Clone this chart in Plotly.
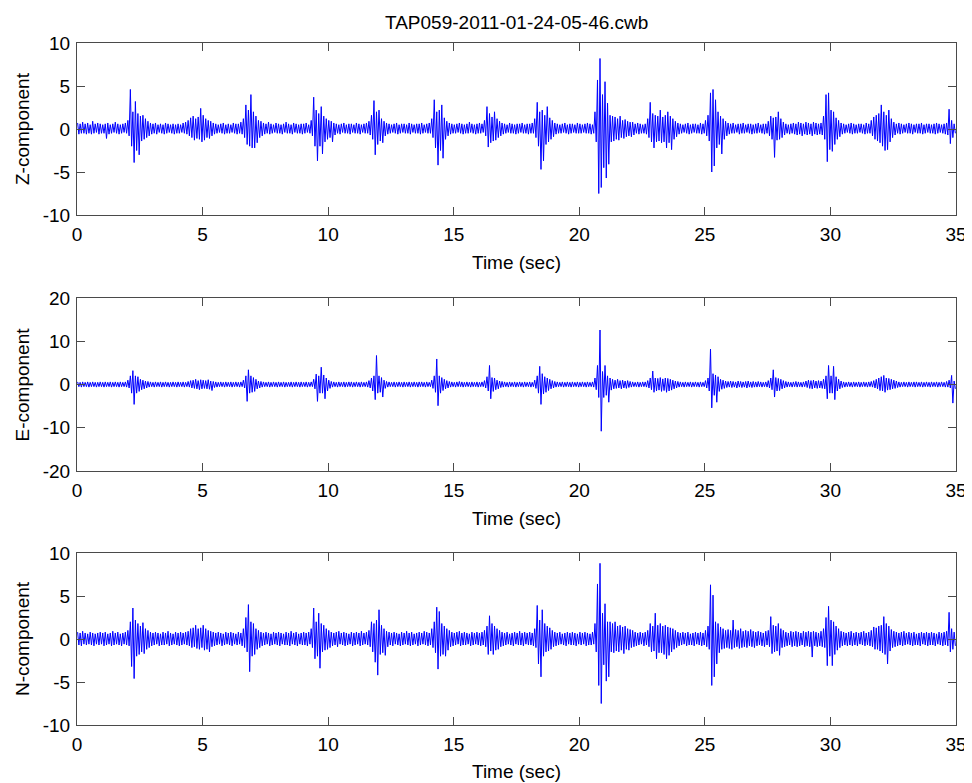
import plotly.graph_objects as go

# ---- data: per-0.1 s bin maximum / minimum ----
bin_width = 0.1
x_ticks = [0, 5, 10, 15, 20, 25, 30, 35]
title_text = "TAP059-2011-01-24-05-46.cwb"
component_labels = ["Z-component", "E-component", "N-component"]
y_ticks_z = [-10, -5, 0, 5, 10]
y_ticks_e = [-20, -10, 0, 10, 20]
y_ticks_n = [-10, -5, 0, 5, 10]

z_hi = [
    0.7,0.6,0.8,0.6,0.7,0.5,0.9,0.6,0.7,0.6,
    0.5,0.6,0.7,0.5,0.6,0.8,0.6,0.5,0.6,0.7,
    1.0,4.6,2.0,3.2,1.8,1.5,1.6,1.2,0.9,0.7,
    0.6,0.7,0.5,0.6,0.5,0.7,0.6,0.5,0.6,0.5,
    0.6,0.5,0.7,0.8,1.0,1.3,1.5,1.2,1.4,2.4,
    1.6,1.2,1.0,0.9,0.7,0.6,0.5,0.6,0.7,0.5,
    0.6,0.5,0.7,0.6,0.6,0.8,1.2,2.8,2.2,4.0,
    2.0,1.5,1.0,0.9,0.7,0.6,0.8,0.6,0.5,0.7,
    0.6,0.5,0.6,0.8,0.6,0.5,0.7,0.6,0.5,0.6,
    0.6,0.7,0.5,1.0,3.7,2.2,1.8,2.6,1.5,1.2,
    1.0,0.9,0.7,0.6,0.5,0.6,0.7,0.5,0.6,0.6,
    0.5,0.7,0.6,0.5,0.6,0.7,0.9,1.6,3.3,2.0,
    2.2,1.2,0.9,0.7,0.6,0.5,0.6,0.7,0.5,0.6,
    0.6,0.5,0.7,0.6,0.5,0.6,0.6,0.7,0.5,0.6,
    0.7,1.2,3.4,2.0,2.2,2.8,1.3,0.9,0.7,0.6,
    0.5,0.6,0.7,0.6,0.5,0.6,0.8,0.6,0.5,0.6,
    0.7,0.6,1.0,2.6,1.8,1.4,2.0,1.2,0.9,0.7,
    0.6,0.5,0.7,0.6,0.5,0.6,0.6,0.7,0.5,0.6,
    0.6,0.7,1.2,3.1,2.0,2.2,1.6,2.6,1.3,1.0,
    0.7,0.6,0.5,0.6,0.7,0.5,0.6,0.6,0.5,0.7,
    0.6,0.5,0.6,0.7,0.6,0.5,2.0,5.7,8.2,4.0,
    5.5,3.0,1.6,1.5,1.4,1.2,1.5,1.0,1.1,0.9,
    0.8,0.8,0.6,0.7,0.6,0.5,0.6,1.2,3.1,1.8,
    1.6,1.5,2.2,1.4,1.6,2.0,1.5,1.2,0.9,0.7,
    0.6,0.5,0.6,0.7,0.5,0.6,0.6,0.5,0.7,0.6,
    1.0,1.6,4.2,4.6,3.4,2.0,1.5,1.2,0.9,0.7,
    0.6,0.7,0.5,0.6,0.6,0.7,0.5,0.6,0.6,0.5,
    0.6,0.7,0.5,0.6,0.6,0.9,1.5,1.3,1.4,2.0,
    1.2,0.8,0.6,0.5,0.6,0.7,0.6,0.8,0.7,0.6,
    0.8,0.7,0.6,0.8,0.7,0.6,0.7,1.5,4.0,4.2,
    2.2,2.0,1.3,1.0,0.7,0.6,0.5,0.6,0.7,0.6,
    0.5,0.6,0.6,0.5,0.7,0.6,1.0,1.4,1.6,1.8,
    2.8,2.0,1.6,2.2,1.2,0.8,0.6,0.7,0.6,0.5,
    0.6,0.7,0.6,0.5,0.6,0.6,0.7,0.5,0.6,0.6,
    0.5,0.6,0.7,0.6,0.5,0.6,0.7,2.3,1.0,0.6]
z_lo = [
    -0.6,-0.5,-0.5,-0.6,-0.5,-0.6,-0.5,-0.4,-0.6,-0.5,
    -0.5,-1.1,-0.6,-0.5,-0.4,-0.5,-0.6,-0.5,-0.4,-0.5,
    -0.8,-2.0,-3.9,-2.5,-3.0,-1.4,-1.2,-1.0,-0.8,-0.6,
    -0.5,-0.6,-0.4,-0.5,-0.6,-0.5,-0.4,-0.5,-0.6,-0.5,
    -0.5,-0.4,-0.5,-0.6,-0.8,-1.0,-1.3,-1.1,-1.2,-1.5,
    -1.3,-1.0,-1.1,-0.8,-0.6,-0.5,-0.4,-0.5,-0.6,-0.5,
    -0.5,-0.4,-0.5,-0.6,-0.5,-0.6,-1.0,-1.8,-2.0,-2.2,
    -2.2,-1.6,-1.0,-0.8,-0.6,-0.5,-0.6,-0.5,-0.4,-0.5,
    -0.5,-0.6,-0.4,-0.5,-0.5,-0.6,-0.4,-0.5,-0.5,-0.6,
    -0.5,-0.4,-0.5,-0.8,-2.0,-3.7,-2.0,-2.9,-1.5,-1.2,
    -1.0,-1.5,-0.7,-0.5,-0.6,-0.4,-0.5,-0.5,-0.6,-0.4,
    -0.5,-0.5,-0.6,-0.4,-0.5,-0.5,-0.7,-1.2,-3.0,-1.8,
    -1.4,-1.6,-0.8,-0.6,-0.5,-0.4,-0.5,-0.6,-0.5,-0.4,
    -0.5,-0.5,-0.6,-0.4,-0.5,-0.5,-0.6,-0.5,-0.4,-0.5,
    -0.5,-1.0,-2.2,-4.2,-2.5,-3.4,-1.2,-0.8,-0.6,-0.5,
    -0.5,-0.4,-0.5,-0.6,-0.5,-0.5,-0.4,-0.5,-0.6,-0.5,
    -0.5,-0.4,-0.8,-2.1,-1.6,-1.4,-1.3,-1.0,-0.8,-0.6,
    -0.5,-0.4,-0.5,-0.5,-0.6,-0.5,-0.4,-0.5,-0.5,-0.6,
    -0.5,-0.5,-1.0,-2.0,-4.7,-3.7,-1.8,-1.5,-1.2,-0.9,
    -0.6,-0.5,-0.5,-0.4,-0.5,-0.6,-0.5,-0.4,-0.5,-0.5,
    -0.5,-0.4,-0.5,-0.5,-0.6,-0.5,-1.5,-7.5,-6.8,-4.5,
    -5.7,-4.1,-1.5,-1.4,-1.2,-1.3,-1.0,-1.1,-0.9,-0.8,
    -0.9,-0.7,-0.5,-0.6,-0.5,-0.5,-0.6,-1.0,-1.5,-2.2,
    -1.5,-1.4,-1.6,-1.5,-2.2,-1.6,-2.4,-1.2,-0.9,-0.6,
    -0.5,-0.4,-0.5,-0.6,-0.5,-0.4,-0.5,-0.5,-0.6,-0.5,
    -0.8,-1.4,-5.0,-4.3,-2.2,-1.8,-2.9,-1.2,-0.8,-0.6,
    -0.5,-0.5,-0.4,-0.6,-0.5,-0.5,-0.4,-0.5,-0.6,-0.5,
    -0.5,-0.4,-0.5,-0.6,-0.5,-0.8,-1.2,-3.3,-1.3,-1.2,
    -1.0,-0.7,-0.5,-0.6,-0.5,-0.6,-0.7,-0.6,-0.8,-0.6,
    -0.7,-0.6,-0.8,-0.6,-0.7,-0.6,-0.7,-1.2,-3.8,-2.4,
    -2.6,-1.8,-1.2,-0.9,-0.6,-0.5,-0.4,-0.5,-0.6,-0.5,
    -0.5,-0.4,-0.5,-0.6,-0.5,-0.5,-0.8,-1.2,-1.4,-1.6,
    -2.0,-2.5,-2.4,-1.5,-1.0,-0.7,-0.5,-0.6,-0.5,-0.4,
    -0.5,-0.5,-0.6,-0.4,-0.5,-0.5,-0.6,-0.5,-0.4,-0.5,
    -0.5,-0.6,-0.5,-0.4,-0.5,-0.6,-0.7,-1.7,-1.0,-0.5]

e_hi = [
    0.6,0.5,0.6,0.5,0.6,0.5,0.6,0.5,0.5,0.6,
    0.5,0.6,0.5,0.6,0.5,0.6,0.5,0.6,0.5,0.6,
    1.0,2.0,3.2,2.0,1.8,1.2,1.0,0.8,0.7,0.6,
    0.5,0.6,0.5,0.6,0.5,0.6,0.5,0.5,0.6,0.5,
    0.6,0.5,0.6,0.5,0.7,0.9,1.0,1.2,0.9,1.1,
    1.0,0.9,1.1,0.8,0.7,0.6,0.5,0.6,0.5,0.6,
    0.5,0.6,0.5,0.6,0.5,0.6,1.0,2.0,3.4,2.0,
    1.6,1.2,0.8,0.7,0.6,0.5,0.6,0.5,0.6,0.5,
    0.6,0.5,0.6,0.5,0.5,0.6,0.5,0.6,0.5,0.6,
    0.5,0.6,0.5,0.6,1.2,2.4,2.0,4.0,2.2,1.5,
    1.0,0.7,0.6,0.5,0.6,0.5,0.6,0.5,0.6,0.6,
    0.5,0.6,0.5,0.6,0.5,0.6,0.9,1.5,2.0,6.7,
    2.0,1.6,1.0,0.7,0.6,0.5,0.6,0.5,0.6,0.5,
    0.6,0.5,0.6,0.5,0.6,0.5,0.6,0.6,0.5,0.6,
    0.5,1.0,2.0,5.9,2.0,1.6,1.2,0.9,0.7,0.6,
    0.5,0.6,0.7,0.6,0.5,0.6,0.5,0.6,0.5,0.6,
    0.5,0.6,0.9,1.8,4.4,1.6,1.5,1.0,0.8,0.7,
    0.6,0.5,0.6,0.5,0.6,0.5,0.6,0.5,0.6,0.5,
    0.6,0.5,1.0,2.0,4.2,2.5,1.8,1.5,1.2,0.9,
    0.7,0.6,0.5,0.6,0.5,0.6,0.5,0.6,0.5,0.6,
    0.5,0.6,0.5,0.6,0.5,0.6,1.5,4.4,12.6,3.0,
    4.4,2.0,1.5,1.2,1.0,1.2,0.9,1.0,0.8,0.9,
    0.7,0.6,0.5,0.6,0.5,0.6,0.6,0.9,1.5,3.1,
    1.5,1.4,1.6,1.3,1.5,1.4,1.2,1.0,0.8,0.7,
    0.6,0.5,0.6,0.5,0.6,0.5,0.6,0.5,0.6,0.5,
    0.9,1.5,8.2,2.5,2.2,1.8,1.2,1.0,0.8,0.7,
    0.8,0.7,0.6,0.8,0.7,0.6,0.7,0.8,0.6,0.7,
    0.6,0.7,0.6,0.5,0.6,0.9,1.5,3.4,1.6,1.4,
    1.2,0.9,0.7,0.6,0.5,0.6,0.7,0.6,0.5,0.6,
    0.8,1.0,0.9,1.0,0.8,0.9,0.8,1.2,2.0,4.4,
    2.0,4.2,1.8,1.2,0.8,0.6,0.5,0.6,0.5,0.6,
    0.5,0.6,0.5,0.6,0.5,0.6,0.7,0.9,1.2,1.5,
    1.8,2.1,1.5,1.4,1.2,1.0,0.8,0.6,0.5,0.6,
    0.5,0.6,0.5,0.6,0.6,0.5,0.6,0.5,0.6,0.5,
    0.6,0.5,0.6,0.5,0.6,0.5,0.7,1.0,2.1,0.8]
e_lo = [
    -0.5,-0.6,-0.5,-0.5,-0.6,-0.5,-0.5,-0.6,-0.5,-0.5,
    -0.6,-0.5,-0.5,-0.6,-0.5,-0.5,-0.6,-0.5,-0.5,-0.6,
    -0.8,-2.0,-4.6,-2.0,-1.6,-1.2,-1.0,-0.8,-0.6,-0.5,
    -0.6,-0.5,-0.5,-0.6,-0.5,-0.5,-0.6,-0.5,-0.5,-0.6,
    -0.5,-0.5,-0.6,-0.5,-0.6,-0.8,-0.9,-1.0,-1.2,-1.0,
    -0.9,-1.0,-1.1,-1.4,-0.7,-0.6,-0.5,-0.5,-0.6,-0.5,
    -0.5,-0.6,-0.5,-0.5,-0.6,-0.5,-0.8,-3.9,-2.0,-1.8,
    -1.6,-1.0,-0.8,-0.6,-0.5,-0.5,-0.6,-0.5,-0.5,-0.6,
    -0.5,-0.5,-0.6,-0.5,-0.5,-0.6,-0.5,-0.5,-0.6,-0.5,
    -0.5,-0.6,-0.5,-0.5,-1.0,-3.9,-2.0,-2.0,-3.3,-1.5,
    -0.9,-0.6,-0.5,-0.6,-0.5,-0.5,-0.6,-0.5,-0.5,-0.6,
    -0.5,-0.5,-0.6,-0.5,-0.5,-0.6,-0.8,-1.5,-3.5,-2.0,
    -1.8,-2.9,-0.9,-0.6,-0.5,-0.5,-0.6,-0.5,-0.5,-0.6,
    -0.5,-0.5,-0.6,-0.5,-0.5,-0.6,-0.5,-0.5,-0.6,-0.5,
    -0.5,-0.9,-1.8,-4.9,-2.0,-1.4,-1.0,-0.8,-0.6,-0.5,
    -0.6,-0.5,-0.5,-0.6,-0.5,-0.5,-0.6,-0.5,-0.5,-0.6,
    -0.5,-0.5,-0.8,-1.5,-3.3,-1.6,-1.2,-1.0,-0.7,-0.6,
    -0.5,-0.6,-0.5,-0.5,-0.6,-0.5,-0.5,-0.6,-0.5,-0.5,
    -0.6,-0.5,-0.9,-2.0,-4.6,-2.2,-1.8,-1.4,-1.0,-0.8,
    -0.6,-0.5,-0.5,-0.6,-0.5,-0.5,-0.6,-0.5,-0.5,-0.6,
    -0.5,-0.5,-0.6,-0.5,-0.5,-0.6,-1.2,-3.0,-10.8,-3.0,
    -2.5,-4.1,-1.3,-1.0,-0.9,-0.8,-1.0,-0.8,-0.9,-0.7,
    -0.6,-0.5,-0.5,-0.6,-0.5,-0.5,-0.6,-0.8,-1.2,-1.8,
    -1.5,-1.3,-1.6,-1.4,-1.8,-1.5,-1.3,-1.0,-0.8,-0.6,
    -0.5,-0.6,-0.5,-0.5,-0.6,-0.5,-0.5,-0.6,-0.5,-0.5,
    -0.8,-1.5,-5.4,-2.5,-4.1,-1.6,-1.1,-0.9,-0.7,-0.6,
    -0.7,-0.6,-0.8,-0.6,-0.7,-0.6,-0.8,-0.6,-0.7,-0.6,
    -0.6,-0.5,-0.6,-0.5,-0.6,-0.8,-1.2,-2.9,-1.5,-1.4,
    -1.0,-0.8,-0.6,-0.5,-0.6,-0.5,-0.6,-0.5,-0.6,-0.5,
    -0.7,-0.9,-1.0,-0.8,-0.9,-0.8,-0.9,-1.0,-3.3,-2.0,
    -2.0,-3.5,-1.5,-1.0,-0.7,-0.6,-0.5,-0.5,-0.6,-0.5,
    -0.5,-0.6,-0.5,-0.5,-0.6,-0.5,-0.6,-0.8,-1.0,-1.4,
    -1.5,-1.8,-1.3,-1.2,-1.0,-0.9,-0.7,-0.6,-0.5,-0.5,
    -0.6,-0.5,-0.5,-0.6,-0.5,-0.5,-0.6,-0.5,-0.5,-0.6,
    -0.5,-0.5,-0.6,-0.5,-0.5,-0.6,-0.6,-0.8,-4.3,-1.0]

n_hi = [
    0.8,0.7,0.9,0.7,0.6,0.8,0.7,0.6,0.7,0.8,
    0.7,0.8,0.6,0.7,0.9,0.7,0.8,0.6,0.7,0.8,
    1.0,2.0,3.6,2.2,1.8,1.5,1.9,1.2,1.0,0.8,
    0.7,0.8,0.7,0.6,0.8,0.7,0.9,0.7,0.6,0.8,
    0.7,0.8,0.7,0.8,0.9,1.2,1.3,1.6,1.2,1.3,
    1.6,1.2,1.0,0.9,0.8,0.7,0.8,0.7,0.6,0.8,
    0.7,0.8,0.7,0.6,0.8,0.7,1.2,2.5,4.0,2.0,
    1.8,1.2,1.0,0.8,0.7,0.8,0.7,0.6,0.8,0.7,
    0.8,0.7,0.6,0.8,0.7,0.9,0.7,0.8,0.6,0.7,
    0.8,0.7,0.8,1.2,3.6,2.0,3.0,1.8,1.6,1.2,
    1.0,0.8,0.7,0.8,0.9,0.7,0.8,0.7,0.6,0.8,
    0.7,0.8,0.7,0.9,0.7,0.8,1.0,2.0,1.8,2.2,
    3.4,1.6,1.2,0.9,0.8,0.7,0.8,0.7,0.6,0.8,
    0.7,0.9,0.7,0.8,0.6,0.7,0.8,0.7,0.9,0.8,
    0.7,1.2,2.0,3.7,3.2,1.8,1.5,1.2,1.0,0.8,
    0.7,0.8,0.9,0.7,0.8,0.7,0.6,0.8,0.7,0.8,
    0.7,0.8,1.0,1.5,2.7,1.8,1.5,1.2,1.0,0.8,
    0.7,0.8,0.6,0.7,0.8,0.7,0.9,0.7,0.8,0.7,
    0.8,0.7,1.2,3.9,2.2,3.4,1.8,1.5,1.3,1.0,
    0.8,0.7,0.8,0.6,0.7,0.8,0.7,0.8,0.7,0.6,
    0.8,0.7,0.8,0.7,0.6,0.8,1.8,6.4,8.8,3.0,
    4.1,2.0,2.0,1.8,2.0,1.5,1.6,1.4,1.5,1.2,
    1.1,1.0,0.8,0.7,0.8,0.7,0.8,1.0,1.8,1.5,
    3.0,1.6,1.8,1.5,1.6,1.4,1.3,1.2,1.0,0.8,
    0.7,0.8,0.7,0.8,0.6,0.7,0.8,0.7,0.8,0.7,
    1.0,1.5,6.3,5.1,2.0,1.8,1.4,1.2,1.0,1.1,
    1.0,2.2,1.1,1.0,1.2,0.9,1.0,0.9,1.1,0.9,
    0.8,0.9,0.8,0.7,0.9,1.0,2.6,1.6,1.5,1.8,
    1.2,1.0,0.8,0.7,0.9,0.8,0.9,0.8,0.7,0.9,
    0.8,0.9,0.8,0.9,0.8,0.7,0.9,1.2,2.5,3.8,
    2.2,2.0,1.5,1.2,0.9,0.8,0.7,0.8,0.9,0.7,
    0.8,0.7,0.8,0.9,0.7,0.8,1.0,1.4,1.3,1.5,
    1.6,2.6,1.8,1.5,1.1,0.9,0.8,0.7,0.8,0.9,
    0.7,0.8,0.7,0.8,0.6,0.7,0.8,0.7,0.8,0.7,
    0.8,0.7,0.6,0.8,0.7,0.8,0.9,3.1,1.2,0.8]
n_lo = [
    -0.7,-0.8,-0.6,-0.7,-0.6,-0.7,-0.8,-0.6,-0.7,-0.6,
    -0.8,-0.7,-0.6,-0.8,-0.7,-0.6,-0.7,-0.8,-0.6,-0.7,
    -0.8,-3.2,-4.6,-2.0,-1.8,-1.5,-1.7,-1.2,-1.0,-0.8,
    -0.7,-0.6,-0.8,-0.7,-0.7,-0.6,-0.8,-0.7,-0.6,-0.7,
    -0.8,-0.7,-0.6,-0.7,-0.8,-1.0,-0.9,-1.1,-1.2,-1.0,
    -1.3,-1.2,-1.5,-0.9,-0.8,-0.7,-0.6,-0.8,-0.7,-0.6,
    -0.7,-0.8,-0.6,-0.7,-0.6,-0.8,-1.0,-1.5,-3.8,-2.0,
    -1.8,-1.2,-1.0,-0.8,-0.7,-0.6,-0.8,-0.7,-0.6,-0.7,
    -0.8,-0.6,-0.7,-0.7,-0.8,-0.6,-0.7,-0.8,-0.6,-0.7,
    -0.7,-0.8,-0.6,-1.0,-2.3,-2.0,-3.4,-1.5,-1.3,-1.2,
    -1.0,-0.8,-0.7,-0.9,-0.6,-0.7,-0.8,-0.7,-0.6,-0.8,
    -0.7,-0.6,-0.8,-0.7,-0.6,-0.7,-0.9,-1.5,-2.7,-4.2,
    -1.8,-1.6,-1.9,-0.9,-0.7,-0.8,-0.6,-0.7,-0.8,-0.7,
    -0.6,-0.7,-0.8,-0.7,-0.6,-0.8,-0.7,-0.6,-0.7,-0.8,
    -0.7,-1.0,-1.6,-3.5,-2.0,-1.8,-2.0,-1.3,-0.9,-0.8,
    -0.7,-0.6,-0.8,-0.7,-0.7,-0.6,-0.8,-0.7,-0.6,-0.7,
    -0.8,-0.7,-0.9,-1.8,-1.4,-1.8,-1.3,-1.2,-0.9,-0.8,
    -0.7,-0.6,-0.7,-0.8,-0.6,-0.7,-0.7,-0.8,-0.6,-0.7,
    -0.7,-0.8,-1.0,-2.9,-4.4,-2.0,-1.5,-1.4,-1.2,-0.9,
    -0.8,-0.7,-0.6,-0.7,-0.8,-0.6,-0.7,-0.7,-0.8,-0.6,
    -0.7,-0.6,-0.8,-0.7,-0.7,-0.6,-1.5,-5.4,-7.5,-3.0,
    -4.9,-4.4,-1.5,-1.6,-1.4,-1.5,-1.3,-1.7,-1.2,-1.3,
    -1.0,-0.9,-0.8,-0.7,-0.6,-0.8,-0.7,-0.9,-1.5,-1.4,
    -2.3,-1.6,-1.6,-1.8,-2.3,-1.9,-1.5,-1.2,-1.0,-0.8,
    -0.7,-0.6,-0.8,-0.7,-0.7,-0.8,-0.6,-0.7,-0.8,-0.7,
    -0.9,-1.2,-5.4,-4.4,-2.9,-1.6,-1.2,-1.1,-1.0,-1.1,
    -1.2,-1.0,-0.9,-1.1,-1.0,-0.9,-1.0,-0.8,-0.9,-1.0,
    -0.8,-0.7,-0.8,-0.9,-0.7,-0.9,-1.7,-1.5,-1.4,-1.9,
    -1.0,-0.9,-0.8,-0.7,-0.9,-0.8,-0.9,-0.8,-0.7,-0.9,
    -0.8,-0.9,-2.1,-0.8,-0.9,-0.8,-0.9,-1.0,-3.1,-2.0,
    -3.1,-1.8,-1.3,-1.0,-0.8,-0.7,-0.8,-0.7,-0.8,-0.7,
    -0.8,-0.6,-0.7,-0.8,-0.7,-0.8,-0.9,-1.2,-1.2,-1.4,
    -1.6,-1.8,-2.9,-1.4,-1.0,-0.9,-0.8,-0.7,-0.8,-0.7,
    -0.6,-0.7,-0.8,-0.7,-0.7,-0.8,-0.6,-0.7,-0.8,-0.7,
    -0.7,-0.8,-0.6,-0.7,-0.8,-0.7,-0.8,-1.5,-1.2,-0.8]

# ---- build traces (interleave max / min of each bin) ----
def trace_xy(hi, lo):
    xs, ys = [], []
    for i, (h, l) in enumerate(zip(hi, lo)):
        t0 = i * bin_width
        xs += [t0 + bin_width * 0.25, t0 + bin_width * 0.75]
        ys += [h, l]
    return xs, ys

# The page body has an 8 px margin, so the figure is laid out in page
# coordinates shifted by OFF.
OFF = 8
W, H = 972 - OFF, 783 - OFF
ML, MR, MT, MB = 77 - OFF, 16, 43 - OFF, 58
PW, PH = W - ML - MR, H - MT - MB

def py(y_page):   # page pixel -> paper y
    return (H - MB - (y_page - OFF)) / PH

def px(x_page):
    return (x_page - OFF - ML) / PW

panels = [
    (z_hi, z_lo, y_ticks_z, (43, 215)),
    (e_hi, e_lo, y_ticks_e, (298, 471)),
    (n_hi, n_lo, y_ticks_n, (553, 725)),
]

fig = go.Figure()
font_family = "Liberation Sans, Arial, sans-serif"
axis_color = "#4a4a4a"
annotations = []
for k, (hi, lo, yt, (top, bot)) in enumerate(panels):
    xs, ys = trace_xy(hi, lo)
    sfx = "" if k == 0 else str(k + 1)
    fig.add_trace(go.Scatter(x=xs, y=ys, mode="lines",
                             line=dict(color="rgb(0,0,255)", width=1),
                             xaxis="x" + sfx, yaxis="y" + sfx,
                             showlegend=False, hoverinfo="skip"))
    common = dict(showline=True, mirror="ticks", linecolor=axis_color, linewidth=1,
                  ticks="inside", ticklen=8, tickcolor=axis_color, tickwidth=1,
                  showgrid=False, zeroline=False, automargin=False,
                  tickfont=dict(family=font_family, size=19, color="black"))
    fig.update_layout(**{
        "xaxis" + sfx: dict(common, range=[0, 35], tickvals=x_ticks,
                            ticktext=[str(v) for v in x_ticks],
                            domain=[0, 1], anchor="y" + sfx, ticklabelstandoff=2),
        "yaxis" + sfx: dict(common, range=[yt[0], yt[-1]], tickvals=yt,
                            ticktext=[str(v) for v in yt],
                            domain=[py(bot), py(top)], anchor="x" + sfx,
                            ticklabelstandoff=2),
    })
    t_y = bot + 47 if k < 2 else 771
    annotations.append(dict(text="Time (sec)", xref="paper", yref="paper",
                            x=0.5, y=py(t_y), xanchor="center", yanchor="middle",
                            showarrow=False,
                            font=dict(family=font_family, size=19, color="black")))
    annotations.append(dict(text=component_labels[k], xref="paper", yref="paper",
                            x=px(22), y=py((top + bot) / 2), xanchor="center",
                            yanchor="middle", textangle=-90, showarrow=False,
                            font=dict(family=font_family, size=19, color="black")))

annotations.append(dict(text=title_text, xref="paper", yref="paper",
                        x=0.5, y=py(22), xanchor="center", yanchor="middle",
                        showarrow=False,
                        font=dict(family=font_family, size=19, color="black")))

fig.update_layout(width=W, height=H,
                  margin=dict(l=ML, r=MR, t=MT, b=MB, pad=0),
                  paper_bgcolor="white", plot_bgcolor="white",
                  annotations=annotations)

fig.write_html("out.html",
               post_script="document.documentElement.style.overflow='hidden';"
                           "document.body.style.overflow='hidden';")
